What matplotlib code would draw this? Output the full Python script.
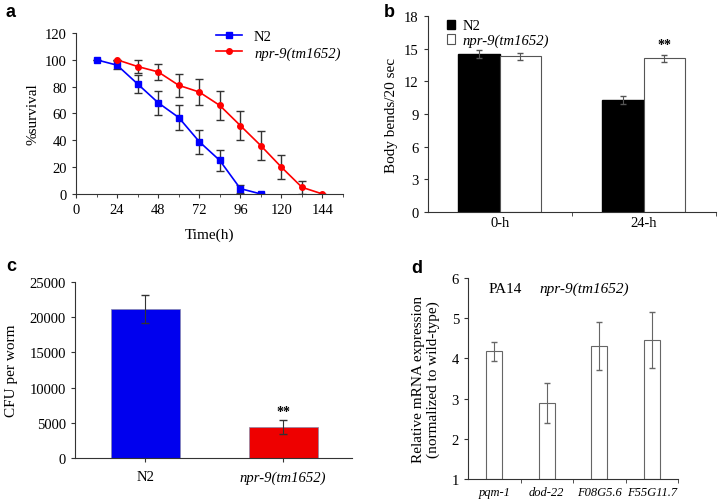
import matplotlib.pyplot as plt
import numpy as np

plt.rcParams['font.family'] = ['Liberation Serif', 'DejaVu Serif']
plt.rcParams['font.size'] = 10.5

# panel a: survival
time_n2 = [12, 24, 36, 48, 60, 72, 84, 96, 108]
surv_n2 = [100, 96, 82, 68, 57, 39, 25, 4, 0]
err_n2 = [0, 3, 7, 9, 9.5, 9, 8, 3, 0]
time_npr = [24, 36, 48, 60, 72, 84, 96, 108, 120, 132, 144]
surv_npr = [100, 95, 91, 81, 76, 66, 51, 36, 20, 5, 0]
err_npr = [0, 5, 6, 8.5, 9.5, 10.5, 11, 11, 9, 5, 0]

# panel b: body bends
groups_b = ['0-h', '24-h']
bends_n2 = [14.5, 10.3]
bends_n2_err = [0.4, 0.35]
bends_npr = [14.3, 14.1]
bends_npr_err = [0.35, 0.3]

# panel c: CFU
strains_c = ['N2', 'npr-9(tm1652)']
cfu = [21200, 4400]
cfu_err = [2000, 1000]

# panel d: expression
genes = ['pqm-1', 'dod-22', 'F08G5.6', 'F55G11.7']
expr = [4.18, 2.9, 4.3, 4.45]
expr_err = [0.24, 0.5, 0.6, 0.7]

fig = plt.figure(figsize=(7.2, 5.02), dpi=100)
ax_a = fig.add_axes([0.1056, 0.6116, 0.3708, 0.3207])
ax_b = fig.add_axes([0.594, 0.576, 0.400, 0.390])
ax_c = fig.add_axes([0.104, 0.0857, 0.385, 0.3506])
ax_d = fig.add_axes([0.65, 0.0438, 0.2917, 0.4004])

for ax in (ax_a, ax_b, ax_c, ax_d):
    ax.spines['top'].set_visible(False)
    ax.spines['right'].set_visible(False)
    for s in ('left', 'bottom'):
        ax.spines[s].set_color('#333333')
    ax.tick_params(direction='out', length=3, color='#333333', labelsize=10.5)

# a
ax_a.errorbar(time_n2, surv_n2, yerr=err_n2, color='blue', marker='s', ms=4,
              lw=1.2, ecolor='#333333', elinewidth=1, capsize=3)
ax_a.errorbar(time_npr, surv_npr, yerr=err_npr, color='red', marker='o', ms=4,
              lw=1.2, ecolor='#333333', elinewidth=1, capsize=3)
ax_a.plot([], [], color='blue', marker='s', ms=4, lw=1.2, label='N2')
ax_a.plot([], [], color='red', marker='o', ms=4, lw=1.2, label='npr-9(tm1652)')
ax_a.set_xlim(0, 156)
ax_a.set_ylim(0, 120)
ax_a.set_xticks(range(0, 145, 24))
ax_a.set_xticks(range(0, 157, 12), minor=True)
ax_a.tick_params(which='minor', length=2, color='#333333')
ax_a.set_yticks(range(0, 121, 20))
ax_a.set_xlabel('Time(h)', fontsize=11, labelpad=8)
ax_a.set_ylabel('%survival', fontsize=11)
leg = ax_a.legend(loc='upper right', frameon=False, fontsize=10.5, handlelength=1.8,
                  bbox_to_anchor=(1.04, 1.1), labelspacing=0.2)
leg.get_texts()[1].set_style('italic')

# b
xb = np.arange(len(groups_b))
w = 0.286
ax_b.bar(xb - w / 2, bends_n2, w, yerr=bends_n2_err, color='black', edgecolor='black',
         error_kw=dict(ecolor='#555555', elinewidth=0.8, capsize=2), label='N2')
ax_b.bar(xb + w / 2, bends_npr, w, yerr=bends_npr_err, color='white', edgecolor='#555555',
         lw=0.8, error_kw=dict(ecolor='#555555', elinewidth=0.8, capsize=2), label='npr-9(tm1652)')
ax_b.text(xb[1] + w / 2, bends_npr[1] + bends_npr_err[1] + 0.4, '**', ha='center',
          va='bottom', fontsize=10, fontweight='bold')
ax_b.set_xlim(-0.5, 1.5)
ax_b.set_ylim(0, 18)
ax_b.set_yticks(range(0, 19, 3))
ax_b.set_xticks(xb)
ax_b.set_xticklabels(groups_b)
ax_b.tick_params(axis='x', length=0, pad=3)
ax_b.set_xticks([0.5, 1.5], minor=True)
ax_b.tick_params(axis='x', which='minor', length=3, color='#333333')
ax_b.set_ylabel('Body bends/20 sec', fontsize=11)
leg = ax_b.legend(loc='upper left', frameon=False, fontsize=10.5, handlelength=0.6,
                  handleheight=0.6, handletextpad=0.5, bbox_to_anchor=(0.02, 1.05),
                  labelspacing=0.1)
leg.get_texts()[1].set_style('italic')

# c
xc = np.arange(len(strains_c))
ax_c.bar(xc, cfu, 0.5, yerr=cfu_err, color=['#0000ee', '#ee0000'], edgecolor='#8888aa',
         lw=0.5, error_kw=dict(ecolor='#333333', elinewidth=0.8, capsize=3))
ax_c.text(xc[1], cfu[1] + cfu_err[1] + 300, '**', ha='center', va='bottom',
          fontsize=10, fontweight='bold')
ax_c.set_xlim(-0.51, 1.5)
ax_c.set_ylim(0, 25000)
ax_c.set_yticks(range(0, 25001, 5000))
ax_c.set_xticks(xc)
ax_c.set_xticklabels(strains_c)
ax_c.get_xticklabels()[1].set_style('italic')
ax_c.tick_params(axis='x', pad=6)
ax_c.set_ylabel('CFU per worm', fontsize=11, labelpad=8)

# d
xd = np.arange(len(genes))
ax_d.bar(xd, [v - 1 for v in expr], 0.3, bottom=1, yerr=expr_err, color='white',
         edgecolor='#666666', lw=0.8,
         error_kw=dict(ecolor='#666666', elinewidth=0.8, capsize=2))
ax_d.set_xlim(-0.5, 3.5)
ax_d.set_ylim(1, 6)
ax_d.set_yticks(range(1, 7))
ax_d.set_xticks(xd)
ax_d.set_xticklabels(genes, style='italic', fontsize=9)
ax_d.tick_params(axis='x', length=0, pad=5)
ax_d.set_xticks([0.5, 1.5, 2.5, 3.5], minor=True)
ax_d.tick_params(axis='x', which='minor', length=3, color='#333333')
ax_d.set_ylabel('Relative mRNA expression\n(normalized to wild-type)', fontsize=11,
                labelpad=8)
ax_d.text(0.1, 0.95, 'PA14', transform=ax_d.transAxes, fontsize=11, va='center')
ax_d.text(0.34, 0.95, 'npr-9(tm1652)', transform=ax_d.transAxes, fontsize=11,
          style='italic', va='center')

# panel letters
for lx, ly, lab in [(0.008, 0.975, 'a'), (0.533, 0.975, 'b'),
                    (0.008, 0.47, 'c'), (0.571, 0.465, 'd')]:
    fig.text(lx, ly, lab, fontsize=13, fontweight='bold', va='center',
             family=['Liberation Sans', 'DejaVu Sans'])

fig.savefig('out.png', dpi=100)
